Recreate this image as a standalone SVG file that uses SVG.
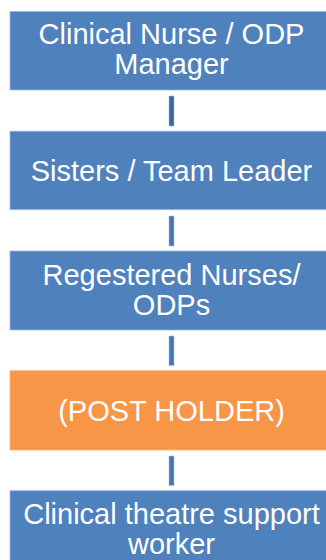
<svg xmlns="http://www.w3.org/2000/svg" width="326" height="560" viewBox="0 0 326 560">
<style>
.box{fill:#4F81BD;stroke:#9DB7DA;stroke-width:0.8}
.post{fill:#F79646;stroke:#F9B47F;stroke-width:0.8}
.lbl{font-family:"Liberation Sans",Arial,sans-serif;font-size:29px;fill:#FFFFFF;text-anchor:middle}
.con{fill:#4675B0;stroke:#A9C0DF;stroke-width:0.6}
</style>
<rect width="326" height="560" fill="#FFFFFF"/>
<g id="connectors">
<rect class="con" x="169" y="96" width="5" height="30" style="fill:#3D6699"/>
<rect class="con" x="169" y="216" width="5" height="30"/>
<rect class="con" x="169" y="336" width="5" height="29.5"/>
<rect class="con" x="169" y="456" width="5" height="29.5"/>
</g>
<g id="n1">
<rect class="box" x="10" y="11.5" width="324" height="78.5"/>
<text class="lbl" x="171.5" y="44">Clinical Nurse / ODP</text>
<text class="lbl" x="171.5" y="74">Manager</text>
</g>
<g id="n2">
<rect class="box" x="10" y="131.2" width="324" height="78.5"/>
<text class="lbl" x="171.5" y="180.5">Sisters / Team Leader</text>
</g>
<g id="n3">
<rect class="box" x="10" y="251" width="324" height="79"/>
<text class="lbl" x="171.5" y="285">Regestered Nurses/</text>
<text class="lbl" x="171.5" y="315">ODPs</text>
</g>
<g id="n4">
<rect class="post" x="10" y="370.7" width="324" height="79.3"/>
<text class="lbl" x="171.5" y="420.5">(POST HOLDER)</text>
</g>
<g id="n5">
<rect class="box" x="10" y="490.7" width="324" height="80"/>
<text class="lbl" x="171.5" y="524">Clinical theatre support</text>
<text class="lbl" x="171.5" y="553.5">worker</text>
</g>
</svg>
